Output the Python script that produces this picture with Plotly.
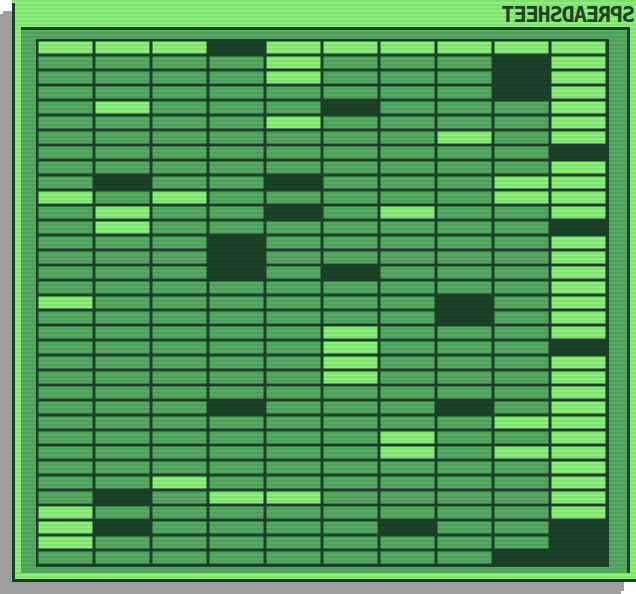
import plotly.graph_objects as go

# ---------------- data ----------------
columns = ["A", "B", "C", "D", "E", "F", "G", "H", "I", "J"]
rows = [str(i) for i in range(1, 36)]
# cell states per row: M = normal, L = highlighted, D = empty/dark
row_states = [
    "LLLDLLLLLL", "MMMMLMMMDL", "MMMMLMMMDL", "MMMMMMMMDL", "MLMMMDMMML",
    "MMMMLMMMML", "MMMMMMMLML", "MMMMMMMMMD", "MMMMMMMMML", "MDMMDMMMLL",
    "LMLMMMMMLL", "MLMMDMLMML", "MLMMMMMMMD", "MMMDMMMMML", "MMMDMMMMML",
    "MMMDMDMMML", "MMMMMMMMML", "LMMMMMMDML", "MMMMMMMDML", "MMMMMLMMML",
    "MMMMMLMMMD", "MMMMMLMMML", "MMMMMLMMML", "MMMMMMMMML", "MMMDMMMDML",
    "MMMMMMMMLL", "MMMMMMLMML", "MMMMMMLMLL", "MMMMMMMMML", "MMLMMMMMML",
    "MDMLLMMMML", "LMMMMMMMML", "LDMMMMDMMD", "LMMMMMMMMD", "MMMMMMMMDD",
]
state_value = {"M": 0, "L": 1, "D": 2}
title_text = "SPREADSHEET"

# ---------------- style ----------------
W, H = 636, 594
LIGHT = "#8af07a"
MID = "#56aa62"
DARK = "#1c4229"
GRAY = "#9e9e9e"

z = [[state_value[c] for c in r] for r in row_states]


def rect(x0, y0, x1, y1, color, layer="below"):
    return dict(type="rect", xref="paper", yref="paper",
                x0=x0 / W, x1=x1 / W, y0=1 - y1 / H, y1=1 - y0 / H,
                fillcolor=color, line=dict(width=0), layer=layer)


shapes = [
    # drop shadow
    rect(3, 11, 624, 591, GRAY),
    rect(0, 14, 621, 594, GRAY),
    # outer window
    rect(12, -10, 646, 582, LIGHT),
    rect(12, 3, 15, 582, DARK),
    rect(12, 579, 646, 582, DARK),
    # inner panel
    rect(21, 27, 630, 573, MID),
    rect(21, 27, 630, 30, DARK),
    rect(627, 27, 630, 573, DARK),
    # table frame
    rect(36, 39, 609, 567, DARK),
]
# scanlines
for y in range(0, 582, 4):
    shapes.append(dict(type="rect", xref="paper", yref="paper",
                       x0=12 / W, x1=1.0, y0=1 - (y + 2) / H, y1=1 - y / H,
                       fillcolor="rgba(0,0,0,0.065)", line=dict(width=0),
                       layer="above"))

fig = go.Figure(go.Heatmap(
    z=z, x=columns, y=rows,
    zmin=0, zmax=2,
    colorscale=[[0, MID], [0.5, LIGHT], [1, DARK]],
    showscale=False, xgap=3, ygap=3, hoverinfo="skip",
))

fig.update_layout(
    width=W, height=H,
    margin=dict(l=0, r=0, t=0, b=0),
    paper_bgcolor="white",
    plot_bgcolor=DARK,
    shapes=shapes,
    showlegend=False,
    xaxis=dict(domain=[37.5 / W, 607.5 / W], range=[-0.5, 9.5],
               showticklabels=False, showgrid=False, zeroline=False,
               ticks="", fixedrange=True),
    yaxis=dict(domain=[1 - 565.5 / H, 1 - 40.5 / H], range=[34.5, -0.5],
               showticklabels=False, showgrid=False, zeroline=False,
               ticks="", fixedrange=True),
    annotations=[dict(
        text="<b>" + title_text + "</b>", xref="paper", yref="paper",
        x=567.5 / W, y=1 - 14 / H, xanchor="center", yanchor="middle",
        showarrow=False,
        font=dict(family="DejaVu Sans Mono", size=22, color=DARK),
    )],
)

post = """
document.documentElement.style.margin = '0';
document.documentElement.style.padding = '0';
document.body.style.margin = '0';
document.body.style.padding = '0';
document.body.style.overflow = 'hidden';
var gd = document.getElementById('{plot_id}');
function mirrorTitle(){
  var ts = gd.querySelectorAll('text.annotation-text');
  ts.forEach(function(t){
    t.style.letterSpacing = '-1.2px';
    var b = t.getBBox();
    var cx = b.x + b.width / 2;
    t.setAttribute('transform', 'translate(' + (2 * cx) + ',0) scale(-1,1)');
  });
}
mirrorTitle();
if (gd.on) { gd.on('plotly_afterplot', mirrorTitle); }
if (document.fonts && document.fonts.ready) { document.fonts.ready.then(mirrorTitle); }
"""

fig.write_html("out.html", config={"displayModeBar": False, "responsive": False},
               post_script=post)
